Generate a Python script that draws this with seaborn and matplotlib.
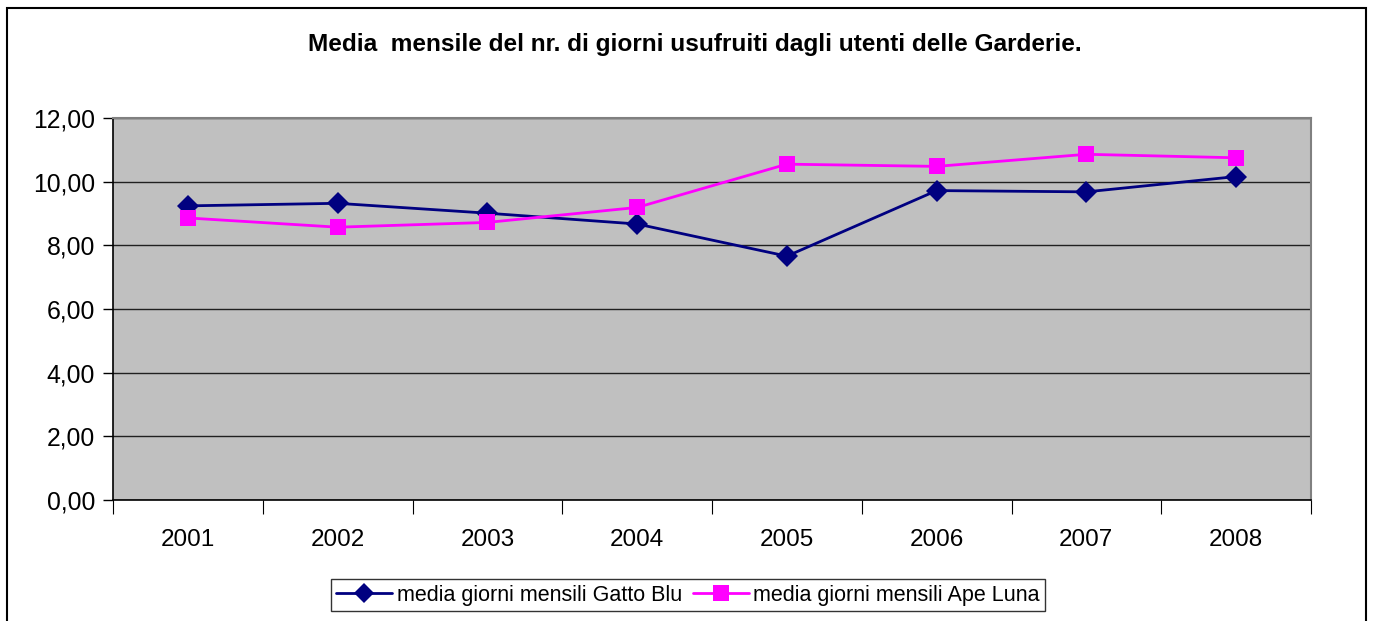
import numpy as np
import pandas as pd
import matplotlib
matplotlib.use('Agg')
import matplotlib.pyplot as plt
import seaborn as sns
from matplotlib.ticker import FixedLocator, FuncFormatter
from matplotlib.patches import Rectangle

# data
anni = ['2001', '2002', '2003', '2004', '2005', '2006', '2007', '2008']
gatto_blu = [9.24, 9.32, 9.01, 8.67, 7.66, 9.72, 9.68, 10.16]
ape_luna = [8.86, 8.57, 8.72, 9.19, 10.55, 10.48, 10.86, 10.75]
serie = ['media giorni mensili Gatto Blu', 'media giorni mensili Ape Luna']

df = pd.DataFrame({
    'anno': anni * 2,
    'pos': list(range(len(anni))) * 2,
    'valore': gatto_blu + ape_luna,
    'serie': [serie[0]] * len(anni) + [serie[1]] * len(anni),
})

sns.set_style('white')
plt.rcParams['font.family'] = ['Liberation Sans', 'DejaVu Sans']
plt.rcParams['text.color'] = 'black'
plt.rcParams['xtick.color'] = 'black'
plt.rcParams['ytick.color'] = 'black'

fig = plt.figure(figsize=(13.73, 6.21), dpi=100)
ax = fig.add_axes([113 / 1373, 1 - 500 / 621, (1311 - 113) / 1373, (500 - 118) / 621])
ax.set_facecolor('#C0C0C0')

colori = {serie[0]: '#000080', serie[1]: '#FF00FF'}
marker = {serie[0]: 'D', serie[1]: 's'}
sns.lineplot(data=df, x='pos', y='valore', hue='serie', style='serie',
             palette=colori, markers=marker,
             dashes=False, linewidth=2, markersize=11, markeredgewidth=0,
             ax=ax, legend=False)

ax.set_xlim(-0.5, len(anni) - 0.5)
ax.set_ylim(0, 12)
ax.set_yticks(np.arange(0, 12.01, 2))
ax.yaxis.set_major_formatter(FuncFormatter(lambda v, p: f'{v:.2f}'.replace('.', ',')))
ax.set_xticks(range(len(anni)))
ax.set_xticklabels(anni)
ax.xaxis.set_minor_locator(FixedLocator(np.arange(-0.5, len(anni), 1)))
ax.tick_params(axis='x', which='major', length=0, labelsize=17.5, pad=21)
ax.tick_params(axis='x', which='minor', length=10, width=0.8, color='black', direction='out', bottom=True)
ax.tick_params(axis='y', length=7, width=1, color='black', direction='out', left=True, labelsize=17.8, pad=6)
ax.set_xlabel('')
ax.set_ylabel('')

ax.grid(axis='y', color='#202020', linewidth=1)
ax.set_axisbelow(True)
for s in ['top', 'right']:
    ax.spines[s].set_color('#808080')
    ax.spines[s].set_linewidth(1.5)
for s in ['left', 'bottom']:
    ax.spines[s].set_color('black')
    ax.spines[s].set_linewidth(1.2)

fig.text(695 / 1373, 1 - 44 / 621,
         'Media  mensile del nr. di giorni usufruiti dagli utenti delle Garderie.',
         ha='center', va='center', fontsize=17.6, fontweight='bold')

handles = [
    plt.Line2D([], [], color=colori[s], marker=marker[s], markersize=11 if marker[s] == 's' else 10.5,
               linewidth=2, markeredgewidth=0) for s in serie
]
leg = fig.legend(handles, serie, loc='center', bbox_to_anchor=(688 / 1373, 1 - 595 / 621),
                 ncol=2, fontsize=15.5, frameon=True, fancybox=False, shadow=False,
                 handlelength=2.6, handletextpad=0.2, columnspacing=0.5,
                 borderpad=0.25, borderaxespad=0)
leg.get_frame().set_edgecolor('black')
leg.get_frame().set_linewidth(1)

fig.patches.append(Rectangle((7 / 1373, -0.01), (1366 - 7) / 1373, 1.01 - 8 / 621,
                             transform=fig.transFigure, fill=False,
                             edgecolor='black', linewidth=1.5))

fig.savefig('out.png', dpi=100)
